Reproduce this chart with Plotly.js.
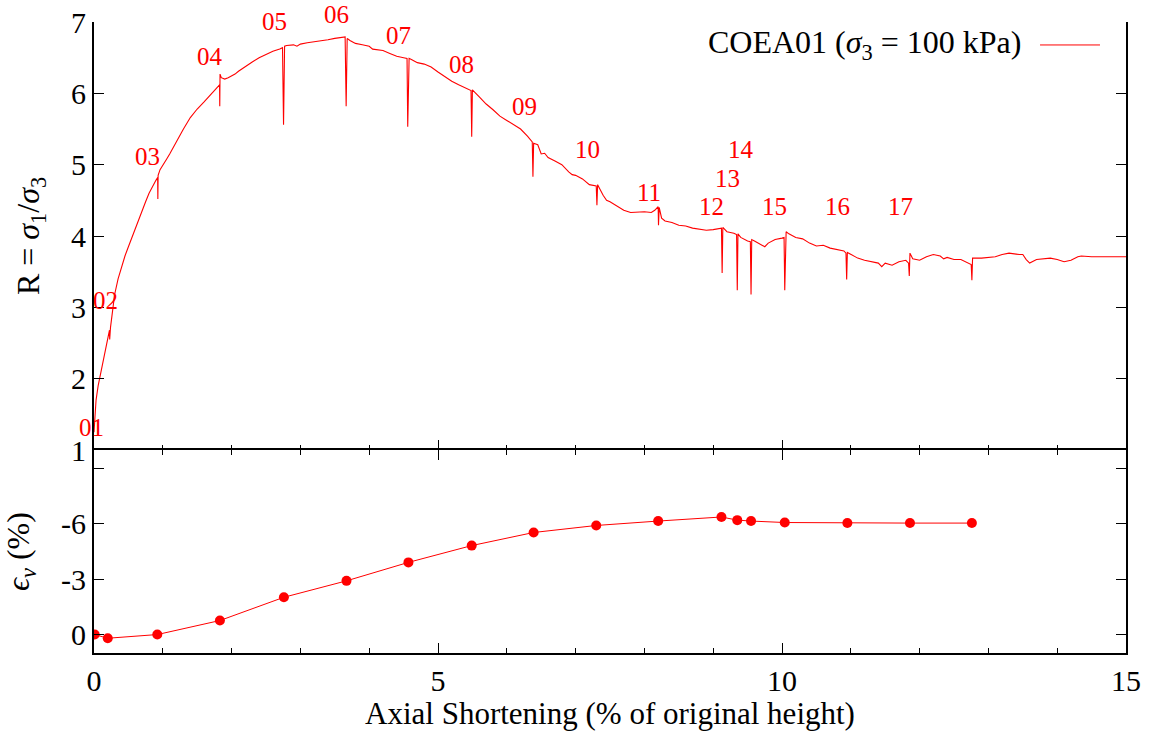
<!DOCTYPE html>
<html>
<head>
<meta charset="utf-8">
<script src="https://cdn.plot.ly/plotly-3.0.1.min.js"></script>
<style>html,body{margin:0;padding:0;background:#fff;}#chart{width:1150px;height:731px;}</style>
</head>
<body>
<div id="chart"></div>
<script>
// Top panel: stress ratio R = sigma1/sigma3 vs axial shortening (%)
const shortening = [0.000,0.010,0.030,0.060,0.100,0.150,0.200,0.225,0.228,0.232,0.235,0.240,0.270,0.300,0.350,0.400,0.450,0.500,0.550,0.600,0.650,0.700,0.750,0.800,0.850,0.900,0.925,0.928,0.932,0.960,1.000,1.050,1.100,1.200,1.300,1.400,1.500,1.600,1.700,1.800,1.825,1.828,1.832,1.850,1.900,1.950,2.000,2.050,2.100,2.200,2.300,2.400,2.500,2.600,2.700,2.740,2.755,2.770,2.800,2.850,2.900,2.950,3.000,3.100,3.200,3.300,3.400,3.500,3.600,3.650,3.665,3.680,3.720,3.800,3.900,4.000,4.050,4.100,4.200,4.300,4.400,4.500,4.550,4.560,4.580,4.620,4.700,4.800,4.900,5.000,5.100,5.200,5.300,5.400,5.480,5.490,5.500,5.600,5.700,5.800,5.900,6.000,6.100,6.200,6.300,6.370,6.380,6.390,6.450,6.500,6.550,6.600,6.700,6.800,6.900,6.950,7.000,7.100,7.200,7.300,7.310,7.320,7.400,7.450,7.500,7.600,7.700,7.800,7.900,8.000,8.100,8.150,8.200,8.205,8.215,8.250,8.300,8.400,8.500,8.600,8.700,8.800,8.900,9.000,9.100,9.120,9.130,9.140,9.200,9.300,9.340,9.350,9.360,9.400,9.500,9.540,9.550,9.560,9.600,9.700,9.750,9.800,9.900,10.000,10.030,10.040,10.060,10.100,10.200,10.300,10.400,10.500,10.600,10.700,10.800,10.900,10.930,10.940,10.950,11.000,11.100,11.200,11.300,11.400,11.450,11.500,11.600,11.700,11.800,11.840,11.850,11.860,11.900,12.000,12.100,12.200,12.300,12.350,12.400,12.500,12.600,12.700,12.750,12.760,12.770,12.900,13.000,13.100,13.200,13.300,13.450,13.500,13.550,13.600,13.700,13.800,13.900,14.000,14.100,14.200,14.300,14.350,14.500,15.000];
const ratioR = [1.25,1.45,1.70,1.90,2.10,2.35,2.55,2.68,2.55,2.68,2.58,2.72,2.95,3.18,3.40,3.58,3.72,3.85,3.98,4.12,4.25,4.37,4.48,4.60,4.70,4.78,4.82,4.52,4.85,4.93,5.00,5.07,5.15,5.33,5.50,5.66,5.78,5.88,5.98,6.08,6.12,5.82,6.27,6.22,6.20,6.22,6.24,6.27,6.31,6.38,6.44,6.50,6.55,6.59,6.62,6.64,5.56,6.66,6.67,6.67,6.68,6.66,6.69,6.71,6.72,6.73,6.75,6.77,6.78,6.79,5.82,6.77,6.74,6.70,6.68,6.66,6.62,6.61,6.60,6.56,6.52,6.50,6.49,5.53,6.49,6.47,6.43,6.41,6.37,6.30,6.23,6.17,6.12,6.07,6.04,5.39,6.05,5.95,5.85,5.77,5.68,5.62,5.56,5.50,5.40,5.32,4.83,5.30,5.28,5.15,5.16,5.10,5.05,5.00,4.90,4.86,4.85,4.80,4.72,4.70,4.43,4.72,4.57,4.50,4.48,4.42,4.36,4.33,4.34,4.34,4.33,4.36,4.41,4.15,4.40,4.25,4.21,4.19,4.15,4.14,4.11,4.09,4.08,4.09,4.10,4.11,3.48,4.12,4.06,4.04,4.02,3.24,4.03,3.98,3.93,3.92,3.18,3.95,3.93,3.88,3.85,3.90,3.95,3.97,3.98,3.24,4.06,4.03,3.98,3.96,3.90,3.86,3.87,3.83,3.81,3.79,3.76,3.39,3.77,3.74,3.69,3.66,3.64,3.62,3.57,3.62,3.59,3.64,3.66,3.62,3.44,3.76,3.68,3.66,3.71,3.74,3.72,3.68,3.70,3.67,3.67,3.62,3.60,3.38,3.69,3.69,3.70,3.71,3.74,3.76,3.74,3.74,3.67,3.62,3.67,3.68,3.69,3.67,3.64,3.66,3.71,3.72,3.71,3.71];

// Bottom panel: volumetric strain at each stage
const stageShortening = [0.01,0.20,0.92,1.83,2.76,3.67,4.57,5.49,6.39,7.30,8.20,9.12,9.35,9.55,10.04,10.95,11.86,12.76];
const volStrain = [0.0,0.2,0.0,-0.76,-2.02,-2.91,-3.91,-4.82,-5.53,-5.91,-6.15,-6.37,-6.20,-6.15,-6.07,-6.04,-6.04,-6.04];

// Stage labels (x in % shortening, y in R units)
const stageLabels = ["01","02","03","04","05","06","07","08","09","10","11","12","13","14","15","16","17"];
const labelX = [-0.03,0.17,0.78,1.69,2.62,3.52,4.43,5.34,6.25,7.17,8.07,8.98,9.21,9.41,9.89,10.81,11.72];
const labelY = [1.31,3.10,5.11,6.51,7.01,7.10,6.81,6.40,5.82,5.21,4.61,4.42,4.81,5.21,4.42,4.42,4.42];

const legendText = "COEA01 (<i>σ</i><sub>3</sub> = 100 kPa)";

const FONT = "Liberation Serif, serif";
const RED = "#ff0000";
const X_RANGE = [0, 15];
const R_RANGE = [1, 7];

const traces = [
  {x: shortening, y: ratioR, type: "scatter", mode: "lines",
   line: {color: RED, width: 1.1}, xaxis: "x", yaxis: "y", showlegend: false, hoverinfo: "skip"},
  {x: stageShortening, y: volStrain, type: "scatter", mode: "lines+markers",
   line: {color: RED, width: 1}, marker: {color: RED, size: 10},
   xaxis: "x2", yaxis: "y2", showlegend: false}
];

// labels placed via axis-domain fractions so those just outside the range still show
const annotations = stageLabels.map((t, i) => ({
  x: (labelX[i] - X_RANGE[0]) / (X_RANGE[1] - X_RANGE[0]),
  y: (labelY[i] - R_RANGE[0]) / (R_RANGE[1] - R_RANGE[0]),
  xref: "x domain", yref: "y domain", text: t, showarrow: false,
  font: {family: FONT, size: 25, color: RED}, xanchor: "center", yanchor: "middle"
}));
annotations.push({
  x: 0.9002, y: 0.9636, xref: "paper", yref: "paper", text: legendText, showarrow: false,
  xanchor: "right", yanchor: "middle", font: {family: FONT, size: 32, color: "#000"}
});

const splitFrac = 203/631;
const TF = {family: FONT, size: 30, color: "#000"};
const YTF = {family: FONT, size: 32, color: "#000"};

const axisCommon = {
  showline: true, linecolor: "#000", linewidth: 2, ticks: "inside", ticklen: 10,
  tickcolor: "#000", tickwidth: 1, showgrid: false, zeroline: false,
  tickfont: TF, automargin: false
};

const layout = {
  width: 1150, height: 731,
  margin: {l: 94, r: 24, t: 22, b: 78},
  paper_bgcolor: "#fff", plot_bgcolor: "#fff",
  font: {family: FONT, color: "#000"},
  showlegend: false,
  xaxis: Object.assign({}, axisCommon, {
    domain: [0, 1], range: X_RANGE, anchor: "y", matches: "x2", showline: false,
    tickvals: [0, 5, 10, 15], showticklabels: false, mirror: false,
    minor: {dtick: 1, ticklen: 5, tickcolor: "#000", ticks: "inside", showgrid: false}
  }),
  yaxis: Object.assign({}, axisCommon, {
    domain: [splitFrac, 1], range: R_RANGE, anchor: "x", dtick: 1, mirror: "ticks",
    title: {text: "R = <i>σ</i><sub>1</sub>/<i>σ</i><sub>3</sub>", font: YTF, standoff: 22}
  }),
  xaxis2: Object.assign({}, axisCommon, {
    domain: [0, 1], range: X_RANGE, anchor: "y2", mirror: "ticks",
    tickvals: [0, 5, 10, 15],
    minor: {dtick: 1, ticklen: 5, tickcolor: "#000", ticks: "inside", showgrid: false},
    title: {text: "Axial Shortening (% of original height)", font: {family: FONT, size: 31, color: "#000"}, standoff: 4}
  }),
  yaxis2: Object.assign({}, axisCommon, {
    domain: [0, splitFrac], range: [1, -10], anchor: "x2", mirror: "ticks",
    tickvals: [-9, -6, -3, 0], ticktext: ["", "-6", "-3", "0"],
    title: {text: "<i>ϵ</i><sub><i>v</i></sub> (%)", font: YTF, standoff: 22}
  }),
  annotations: annotations,
  shapes: [
    {type: "line", xref: "paper", yref: "paper", x0: 0.9167, x1: 0.9748, y0: 0.9636, y1: 0.9636,
     line: {color: RED, width: 1}}
  ]
};

Plotly.newPlot("chart", traces, layout, {displayModeBar: false, staticPlot: true});
</script>
</body>
</html>
